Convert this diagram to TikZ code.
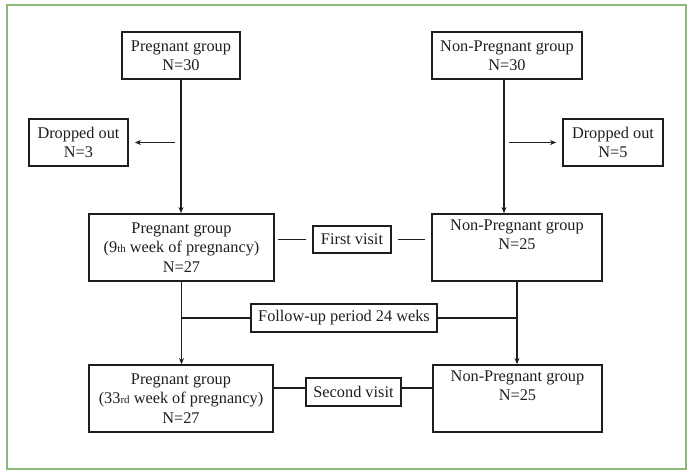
\documentclass[tikz,border=0pt]{standalone}
\usepackage{fontspec}
\setmainfont{Liberation Serif}
\usetikzlibrary{arrows.meta}
\definecolor{framegreen}{RGB}{140,185,120}
\definecolor{ink}{RGB}{30,30,30}
\newcommand{\smallsup}[1]{{\fontsize{11}{11}\selectfont #1}}
\begin{document}
\begin{tikzpicture}[x=1pt,y=-1pt,
  box/.style={draw=ink,line width=1.8pt,text=ink,inner sep=0pt,align=center,
    font=\fontsize{16.3}{19.5}\selectfont},
  conn/.style={draw=ink,line width=1.6pt},
  arr/.style={conn,-{Stealth[length=6pt,width=5pt]}}]
\useasboundingbox (0,0) rectangle (693,476);
\draw[framegreen,line width=2pt] (7,5) rectangle (686,469);

\node[box,minimum width=118pt,minimum height=47pt] (p1) at (181,55.5) {Pregnant group\\N=30};
\node[box,minimum width=150pt,minimum height=47pt] (n1) at (507,55.5) {Non-Pregnant group\\N=30};
\node[box,minimum width=99pt,minimum height=47pt] (d1) at (78.5,142.5) {Dropped out\\N=3};
\node[box,minimum width=100pt,minimum height=47pt] (d2) at (613,142.5) {Dropped out\\N=5};
\node[box,minimum width=185pt,minimum height=67pt] (p2) at (181.5,247.5) {Pregnant group\\(9\smallsup{th} week of pregnancy)\\N=27};
\node[box,minimum width=170pt,minimum height=67pt] (n2) at (517,247.5) {Non-Pregnant group\\N=25\\\strut};
\node[box,minimum width=78pt,minimum height=27pt] (fv) at (352,239.5) {First visit};
\node[box,minimum width=186pt,minimum height=28pt] (fu) at (344,318) {Follow-up period 24 weks};
\node[box,minimum width=184pt,minimum height=67pt] (p3) at (181,398.5) {Pregnant group\\(33\smallsup{rd} week of pregnancy)\\N=27};
\node[box,minimum width=169pt,minimum height=67pt] (n3) at (517.5,398.5) {Non-Pregnant group\\N=25\\\strut};
\node[box,minimum width=95pt,minimum height=28pt] (sv) at (353.5,392) {Second visit};

% left column
\draw[arr] (p1.south) -- (p1.south |- p2.north);
\coordinate (l1) at ([xshift=-6pt]p1.south |- d1.east);
\draw[arr,shorten >=6pt] (l1) -- (d1.east);
\draw[arr] (p2.south) -- (p2.south |- p3.north);
\coordinate (fl) at (p2.south |- fu.west);
\draw[conn] (fl) -- (fu.west);

% right column
\coordinate (r0) at ([xshift=-3pt]n1.south);
\draw[arr] (r0) -- (r0 |- n2.north);
\coordinate (r1) at ([xshift=5pt]r0 |- d2.west);
\draw[arr,shorten >=6pt] (r1) -- (d2.west);
\draw[arr] (n2.south) -- (n2.south |- n3.north);
\coordinate (fr) at (n2.south |- fu.east);
\draw[conn] (fu.east) -- (fr);

% visits
\draw[conn,shorten <=3pt,shorten >=6pt] (p2.east |- fv.west) -- (fv.west);
\draw[conn,shorten <=6pt,shorten >=6pt] (fv.east) -- (n2.west |- fv.east);
\draw[conn] ([yshift=4pt]sv.west) -- ([yshift=4pt]p3.east |- sv.west);
\draw[conn] ([yshift=4pt]sv.east) -- ([yshift=4pt]n3.west |- sv.east);
\end{tikzpicture}
\end{document}
